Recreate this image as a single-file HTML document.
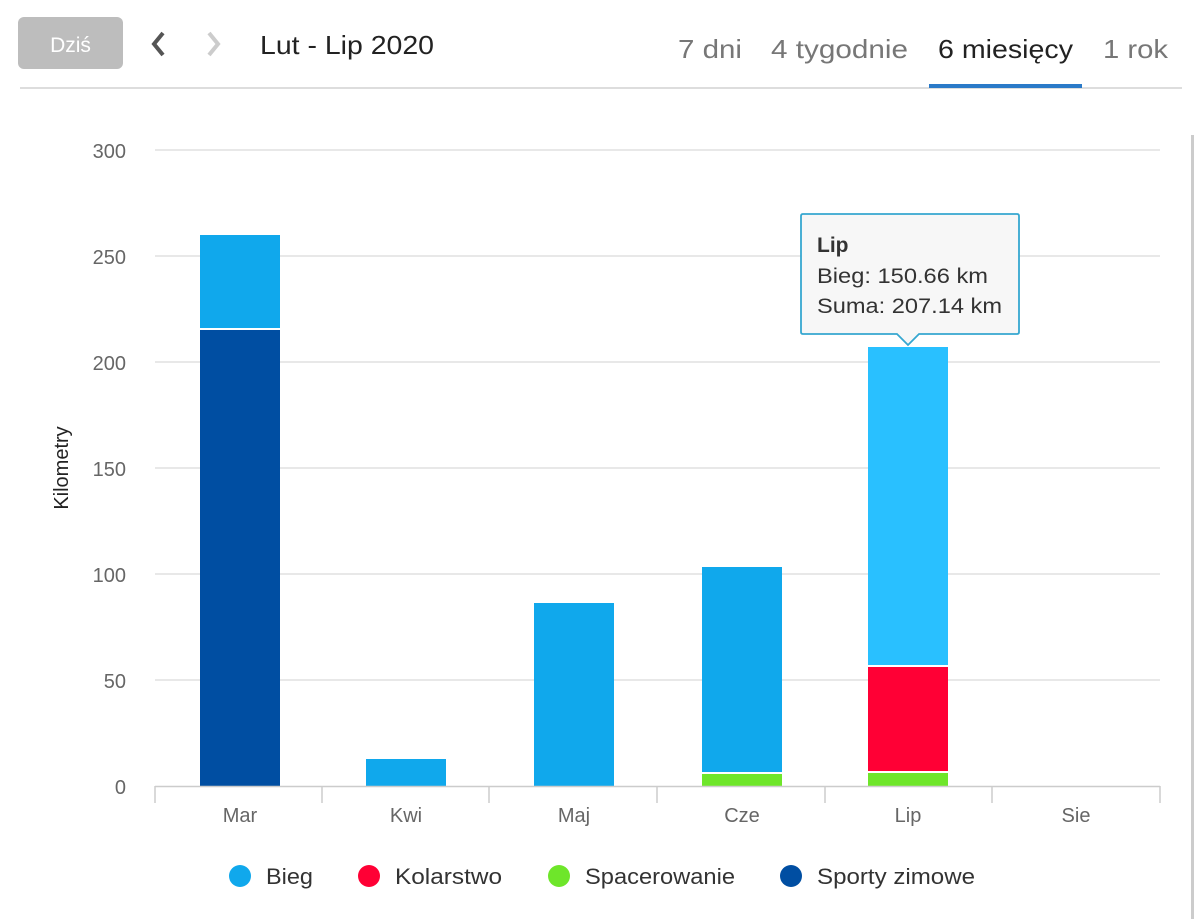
<!DOCTYPE html>
<html><head><meta charset="utf-8"><style>
body{margin:0;background:#fff;width:1200px;height:919px;overflow:hidden;font-family:"Liberation Sans",sans-serif}
</style></head><body>
<svg width="1200" height="919" xmlns="http://www.w3.org/2000/svg" font-family="Liberation Sans, sans-serif">
<rect x="18" y="17" width="105" height="52" rx="6" fill="#bdbdbd"/>
<text x="70.5" y="52" font-size="21" fill="#fff" text-anchor="middle">Dziś</text>
<path d="M163 33 L154 44 L163 55" stroke="#555" stroke-width="4" fill="none"/>
<path d="M209 33 L218 44 L209 55" stroke="#ccc" stroke-width="4" fill="none"/>
<text x="260" y="54" font-size="26" fill="#222" textLength="174" lengthAdjust="spacingAndGlyphs">Lut - Lip 2020</text>
<text x="678" y="58" font-size="26" fill="#777" textLength="64" lengthAdjust="spacingAndGlyphs">7 dni</text>
<text x="771" y="58" font-size="26" fill="#777" textLength="137" lengthAdjust="spacingAndGlyphs">4 tygodnie</text>
<text x="938" y="58" font-size="26" fill="#222" textLength="135" lengthAdjust="spacingAndGlyphs">6 miesięcy</text>
<text x="1103" y="58" font-size="26" fill="#777" textLength="65" lengthAdjust="spacingAndGlyphs">1 rok</text>
<rect x="20" y="87" width="1162" height="2" fill="#ddd"/>
<rect x="929" y="84" width="153" height="4" fill="#2a7ac8"/>
<rect x="1191" y="135" width="3" height="784" fill="#ccc"/>
<g stroke="#e0e0e0" stroke-width="1.5">
<line x1="155" x2="1160" y1="150" y2="150"/><line x1="155" x2="1160" y1="256" y2="256"/>
<line x1="155" x2="1160" y1="362" y2="362"/><line x1="155" x2="1160" y1="468" y2="468"/>
<line x1="155" x2="1160" y1="574" y2="574"/><line x1="155" x2="1160" y1="680" y2="680"/>
</g>
<g font-size="20" fill="#666" text-anchor="end">
<text x="126" y="158">300</text><text x="126" y="264">250</text><text x="126" y="370">200</text>
<text x="126" y="476">150</text><text x="126" y="582">100</text><text x="126" y="688">50</text><text x="126" y="794">0</text>
</g>
<text transform="translate(68,468) rotate(-90)" font-size="20" fill="#222" text-anchor="middle">Kilometry</text>
<rect x="200" y="330" width="80" height="456" fill="#004ea2"/>
<rect x="200" y="235" width="80" height="93" fill="#10a8ec"/>
<rect x="366" y="759" width="80" height="27" fill="#10a8ec"/>
<rect x="534" y="603" width="80" height="183" fill="#10a8ec"/>
<rect x="702" y="774" width="80" height="12" fill="#6ee62a"/>
<rect x="702" y="567" width="80" height="205" fill="#10a8ec"/>
<rect x="868" y="773" width="80" height="13" fill="#6ee62a"/>
<rect x="868" y="667" width="80" height="104" fill="#ff0035"/>
<rect x="868" y="347" width="80" height="318" fill="#29c0ff"/>
<g stroke="#ccc" stroke-width="1.5">
<line x1="155" x2="1160" y1="786.5" y2="786.5"/>
<line x1="155" x2="155" y1="786" y2="803"/><line x1="322" x2="322" y1="786" y2="803"/>
<line x1="489" x2="489" y1="786" y2="803"/><line x1="657" x2="657" y1="786" y2="803"/>
<line x1="825" x2="825" y1="786" y2="803"/><line x1="992" x2="992" y1="786" y2="803"/>
<line x1="1160" x2="1160" y1="786" y2="803"/>
</g>
<g font-size="20" fill="#666" text-anchor="middle">
<text x="240" y="822">Mar</text><text x="406" y="822">Kwi</text><text x="574" y="822">Maj</text>
<text x="742" y="822">Cze</text><text x="908" y="822">Lip</text><text x="1076" y="822">Sie</text>
</g>
<g font-size="22" fill="#333">
<circle cx="240" cy="876" r="11" fill="#10a8ec"/><text x="266" y="884" textLength="47" lengthAdjust="spacingAndGlyphs">Bieg</text>
<circle cx="369" cy="876" r="11" fill="#ff0035"/><text x="395" y="884" textLength="107" lengthAdjust="spacingAndGlyphs">Kolarstwo</text>
<circle cx="559" cy="876" r="11" fill="#6ee62a"/><text x="585" y="884" textLength="150" lengthAdjust="spacingAndGlyphs">Spacerowanie</text>
<circle cx="791" cy="876" r="11" fill="#004ea2"/><text x="817" y="884" textLength="158" lengthAdjust="spacingAndGlyphs">Sporty zimowe</text>
</g>
<path d="M803 214 H1017 Q1019 214 1019 216 V332 Q1019 334 1017 334 H919 L908 345 L897 334 H803 Q801 334 801 332 V216 Q801 214 803 214 Z" fill="#f7f7f7" stroke="#36a7d0" stroke-width="1.8"/>
<text x="817" y="252" font-size="21" font-weight="bold" fill="#333">Lip</text>
<text x="817" y="283" font-size="21" fill="#333" textLength="171" lengthAdjust="spacingAndGlyphs">Bieg: 150.66 km</text>
<text x="817" y="313" font-size="21" fill="#333" textLength="185" lengthAdjust="spacingAndGlyphs">Suma: 207.14 km</text>
</svg>
</body></html>
